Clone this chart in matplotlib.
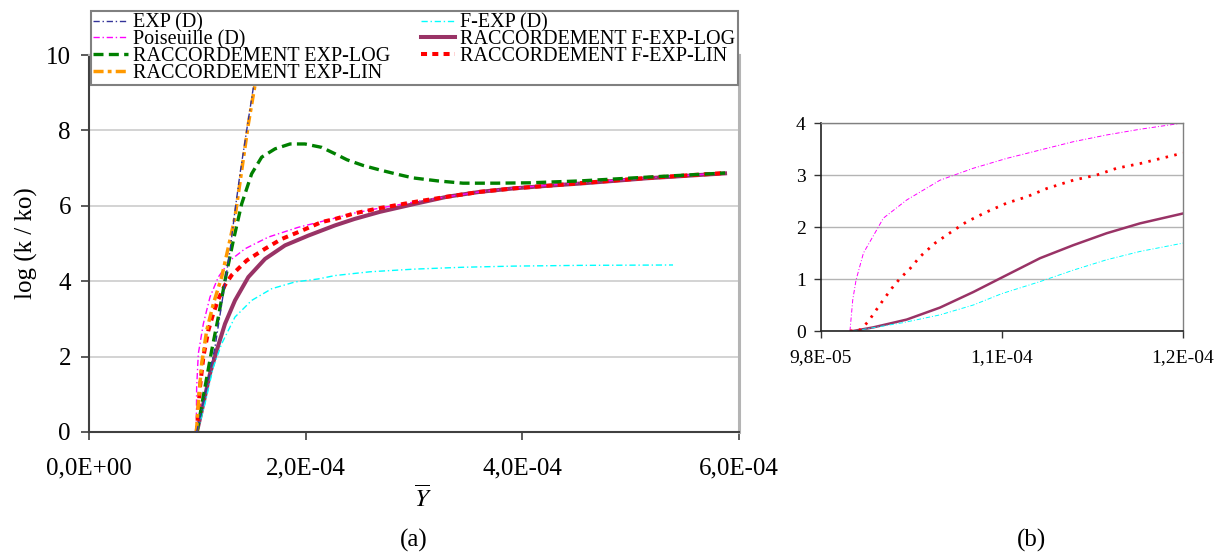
import numpy as np
import matplotlib
matplotlib.use("Agg")
import matplotlib.pyplot as plt
from matplotlib.ticker import FuncFormatter, FixedLocator

plt.rcParams['font.family'] = ['Liberation Serif', 'DejaVu Serif']
plt.rcParams['mathtext.fontset'] = 'stix'

# ---------------- Panel (a) data ----------------
exp_x = [0.994e-4, 1.04e-4, 1.086e-4, 1.163e-4, 1.24e-4, 1.3015e-4, 1.3477e-4, 1.3938e-4,
         1.4554e-4, 1.515e-4, 1.573e-4]
exp_y = [0.0, 0.6, 1.19, 2.25, 3.67, 4.81, 5.87, 6.85, 8.0, 9.1, 10.2]

pois_x = [0.990e-4, 0.9938e-4, 1.0092e-4, 1.0554e-4, 1.1169e-4, 1.1938e-4, 1.3015e-4, 1.44e-4,
          1.6554e-4, 1.9323e-4, 2.24e-4, 2.437e-4, 2.686e-4, 3.0e-4, 3.305e-4, 3.609e-4,
          3.914e-4, 4.532e-4, 5.151e-4, 5.871e-4]
pois_y = [0.0, 1.19, 2.08, 2.87, 3.58, 4.11, 4.55, 4.86, 5.17, 5.43, 5.65, 5.8, 5.94, 6.1,
          6.24, 6.37, 6.47, 6.61, 6.74, 6.87]

explog_x = [0.996e-4, 1.0708e-4, 1.1323e-4, 1.1938e-4, 1.2554e-4, 1.3323e-4, 1.4092e-4,
            1.5015e-4, 1.5938e-4, 1.7169e-4, 1.8554e-4, 1.9938e-4, 2.1477e-4, 2.2708e-4,
            2.382e-4, 2.53e-4, 2.686e-4, 2.84e-4, 2.991e-4, 3.22e-4, 3.452e-4, 3.763e-4,
            4.07e-4, 4.532e-4, 5.151e-4, 5.871e-4]
explog_y = [0.0, 1.19, 2.16, 3.05, 4.02, 5.08, 6.05, 6.85, 7.29, 7.51, 7.64, 7.64, 7.55, 7.38,
            7.22, 7.07, 6.95, 6.84, 6.74, 6.66, 6.6, 6.6, 6.61, 6.66, 6.76, 6.87]

explin_x = [0.992e-4, 1.0092e-4, 1.04e-4, 1.0862e-4, 1.1477e-4, 1.2246e-4, 1.2862e-4,
            1.3477e-4, 1.4092e-4, 1.4708e-4, 1.532e-4, 1.573e-4]
explin_y = [0.0, 0.75, 1.81, 2.69, 3.4, 4.11, 4.9, 5.7, 6.93, 8.17, 9.2, 10.2]

fexp_x = [1.0e-4, 1.0708e-4, 1.1477e-4, 1.2246e-4, 1.3477e-4, 1.5015e-4, 1.6862e-4, 1.9015e-4,
          2.1169e-4, 2.2708e-4, 2.594e-4, 3.0e-4, 3.452e-4, 3.914e-4, 4.532e-4, 5.391e-4]
fexp_y = [0.0, 0.75, 1.72, 2.34, 3.05, 3.49, 3.8, 3.98, 4.06, 4.15, 4.25, 4.32, 4.37, 4.40,
          4.42, 4.43]

fexplog_x = [0.996e-4, 1.0554e-4, 1.1169e-4, 1.1785e-4, 1.2554e-4, 1.3477e-4, 1.4708e-4,
             1.6246e-4, 1.8092e-4, 2.0246e-4, 2.2708e-4, 2.45e-4, 2.686e-4, 2.991e-4,
             3.305e-4, 3.609e-4, 3.914e-4, 4.228e-4, 4.532e-4, 5.151e-4, 5.871e-4]
fexplog_y = [0.0, 0.75, 1.55, 2.16, 2.87, 3.49, 4.11, 4.59, 4.95, 5.21, 5.48, 5.65, 5.84, 6.04,
             6.24, 6.37, 6.46, 6.53, 6.59, 6.73, 6.86]

fexplin_x = [0.994e-4, 1.0092e-4, 1.0246e-4, 1.0554e-4, 1.1015e-4, 1.1477e-4, 1.1938e-4,
             1.2554e-4, 1.3169e-4, 1.4554e-4, 1.6246e-4, 1.7785e-4, 1.9631e-4, 2.1477e-4,
             2.2708e-4, 2.45e-4, 2.686e-4, 3.0e-4, 3.305e-4, 3.609e-4, 3.914e-4, 4.532e-4,
             5.151e-4, 5.871e-4]
fexplin_y = [0.0, 0.57, 1.19, 1.99, 2.69, 3.15, 3.52, 3.9, 4.16, 4.55, 4.86, 5.12, 5.34, 5.57,
             5.65, 5.8, 5.94, 6.1, 6.24, 6.37, 6.46, 6.6, 6.74, 6.87]

# ---------------- Panel (b) data ----------------
b_pois_x = [0.9976e-4, 0.9993e-4, 1.0013e-4, 1.0058e-4, 1.0136e-4, 1.0179e-4, 1.0321e-4,
            1.0523e-4, 1.0726e-4, 1.0929e-4, 1.1131e-4, 1.1333e-4, 1.1536e-4, 1.1739e-4, 1.2e-4]
b_pois_y = [0.0, 0.6, 0.98, 1.5, 1.93, 2.17, 2.52, 2.9, 3.13, 3.32, 3.48, 3.64, 3.77, 3.88, 4.0]

b_fexplin_x = [0.9976e-4, 1.0037e-4, 1.0087e-4, 1.0128e-4, 1.0179e-4, 1.023e-4, 1.028e-4,
               1.0341e-4, 1.0402e-4, 1.0493e-4, 1.0594e-4, 1.0685e-4, 1.0807e-4, 1.0929e-4,
               1.105e-4, 1.1172e-4, 1.1333e-4, 1.1476e-4, 1.1597e-4, 1.1739e-4, 1.1971e-4, 1.2e-4]
b_fexplin_y = [0.0, 0.02, 0.18, 0.37, 0.6, 0.82, 1.01, 1.2, 1.43, 1.69, 1.91, 2.1, 2.29, 2.46,
               2.58, 2.74, 2.9, 3.0, 3.13, 3.22, 3.4, 3.42]

b_fexplog_x = [0.9995e-4, 1.0118e-4, 1.0321e-4, 1.0523e-4, 1.0726e-4, 1.09e-4, 1.1131e-4,
               1.1333e-4, 1.1536e-4, 1.1739e-4, 1.2e-4]
b_fexplog_y = [0.0, 0.07, 0.22, 0.45, 0.75, 1.03, 1.40, 1.65, 1.88, 2.07, 2.26]

b_fexp_x = [0.9995e-4, 1.0037e-4, 1.0298e-4, 1.0523e-4, 1.0726e-4, 1.09e-4, 1.1131e-4,
            1.1333e-4, 1.1536e-4, 1.1739e-4, 1.2e-4]
b_fexp_y = [0.0, 0.02, 0.16, 0.31, 0.5, 0.72, 0.95, 1.17, 1.37, 1.53, 1.69]

labels = ['EXP (D)', 'Poiseuille (D)', 'RACCORDEMENT EXP-LOG', 'RACCORDEMENT EXP-LIN',
          'F-EXP (D)', 'RACCORDEMENT F-EXP-LOG', 'RACCORDEMENT F-EXP-LIN']
a_xticks = [0.0, 2e-4, 4e-4, 6e-4]
a_yticks = [0, 2, 4, 6, 8, 10]
b_xticks = [9.8e-5, 1.09e-4, 1.2e-4]
b_yticks = [0, 1, 2, 3, 4]

C_EXP = '#333399'
C_POIS = '#ff00ff'
C_LOG = '#008000'
C_LIN = '#ff9900'
C_FEXP = '#00ffff'
C_FLOG = '#993366'
C_FLIN = '#ff0000'

W, H = 1224, 559
fig = plt.figure(figsize=(W / 100, H / 100), dpi=100)

def frac(l, t, r, b):
    return [l / W, 1 - b / H, (r - l) / W, (b - t) / H]

fmt = FuncFormatter(lambda v, p: f"{v:.1E}".replace('.', ','))
DD = (0, (4.5, 2, 1, 2))

# ---------------- Panel (a) ----------------
ax = fig.add_axes(frac(89, 55, 739, 432))
ax.set_xlim(0, 6e-4)
ax.set_ylim(0, 10)
kw = dict(solid_joinstyle='round', dash_joinstyle='round')
h = []
h.append(ax.plot(exp_x, exp_y, color=C_EXP, lw=1.0, ls=DD, zorder=2.6, **kw)[0])
h.append(ax.plot(pois_x, pois_y, color=C_POIS, lw=1.0, ls=DD, zorder=2.2, **kw)[0])
h.append(ax.plot(explog_x, explog_y, color=C_LOG, lw=2.4, ls=(0, (3, 1.6)), zorder=2.4, **kw)[0])
h.append(ax.plot(explin_x, explin_y, color=C_LIN, lw=2.5, ls=(0, (2.9, 1.2, 1.1, 1.2)), zorder=2.5, **kw)[0])
h.append(ax.plot(fexp_x, fexp_y, color=C_FEXP, lw=1.0, ls=DD, zorder=2.1, **kw)[0])
h.append(ax.plot(fexplog_x, fexplog_y, color=C_FLOG, lw=2.9, ls='-', zorder=2.0, **kw)[0])
h.append(ax.plot(fexplin_x, fexplin_y, color=C_FLIN, lw=2.9, ls=(0, (1.5, 1.3)), zorder=2.3, **kw)[0])

ax.set_xticks(a_xticks)
ax.set_yticks(a_yticks)
ax.xaxis.set_major_formatter(fmt)
ax.grid(axis='y', color='#c8c8c8', lw=1.1, zorder=0)
ax.set_axisbelow(True)
ax.tick_params(axis='both', direction='out', length=6, width=1.2, color='#404040',
               labelsize=18, pad=7)
ax.tick_params(axis='x', pad=12)
for s in ['left', 'bottom']:
    ax.spines[s].set_color('#404040')
    ax.spines[s].set_linewidth(1.5)
ax.spines['right'].set_color('#b4b4b4')
ax.spines['right'].set_linewidth(2.2)
ax.spines['top'].set_color('#b4b4b4')
ax.spines['top'].set_linewidth(1.5)
ax.set_ylabel('log (k / ko)', fontsize=18, labelpad=6)

leg = fig.legend(h, labels, ncol=2, loc='upper left', bbox_to_anchor=(91 / W, 1 - 11 / H),
                 bbox_transform=fig.transFigure, fontsize=14.5, frameon=True, fancybox=False,
                 borderaxespad=0, borderpad=0.12, handlelength=1.7, handletextpad=0.25,
                 columnspacing=1.55, labelspacing=-0.12)
leg.get_frame().set_edgecolor('#808080')
leg.get_frame().set_linewidth(1.5)
leg.get_frame().set_alpha(1)
leg.set_zorder(10)

fig.text(423 / W, 1 - 498 / H, r'$\overline{Y}$', fontsize=18, ha='center', va='center')
fig.text(414 / W, 1 - 540 / H, '(a)', fontsize=18, ha='center', va='center')

# ---------------- Panel (b) ----------------
bx = fig.add_axes(frac(821, 123, 1183, 331))
bx.set_xlim(9.8e-5, 1.2e-4)
bx.set_ylim(0, 4)
bx.plot(b_fexp_x, b_fexp_y, color=C_FEXP, lw=0.7, ls=DD, zorder=2.1, **kw)
bx.plot(b_fexplog_x, b_fexplog_y, color=C_FLOG, lw=1.8, ls='-', zorder=2.0, **kw)
bx.plot(b_pois_x, b_pois_y, color=C_POIS, lw=0.7, ls=DD, zorder=2.2, **kw)
bx.plot(b_fexplin_x, b_fexplin_y, color=C_FLIN, lw=2.0, ls=(0, (0.9, 2.3)), zorder=2.3, **kw)
bx.xaxis.set_major_locator(FixedLocator(b_xticks))
bx.set_yticks(b_yticks)
bx.xaxis.set_major_formatter(fmt)
bx.grid(axis='y', color='#b4b4b4', lw=1.0, zorder=0)
bx.set_axisbelow(True)
bx.tick_params(axis='both', direction='out', length=5, width=1.0, color='#333333',
               labelsize=14, pad=6)
bx.tick_params(axis='x', pad=8)
for s in ['left', 'bottom']:
    bx.spines[s].set_color('#222222')
    bx.spines[s].set_linewidth(1.2)
for s in ['right', 'top']:
    bx.spines[s].set_color('#808080')
    bx.spines[s].set_linewidth(1.0)

fig.text(1032 / W, 1 - 540 / H, '(b)', fontsize=18, ha='center', va='center')

fig.savefig('out.png', dpi=100)
